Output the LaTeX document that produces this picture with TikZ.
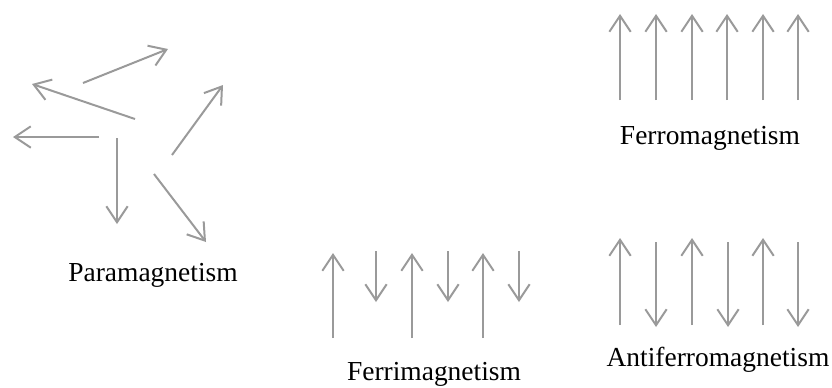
\documentclass[tikz,border=0pt]{standalone}
\usepackage{fontspec}
\setmainfont{Liberation Serif}
\usetikzlibrary{arrows.meta}
\definecolor{spingray}{HTML}{9A9A9A}
\tikzset{
  spin/.style={-{Straight Barb[length=12pt,width=16pt]}, line width=1.5pt, draw=spingray},
  caption/.style={font=\fontsize{20.6}{24}\selectfont, inner sep=0pt, text=black}
}
\begin{document}
\begin{tikzpicture}[x=0.75pt,y=-0.75pt]
\useasboundingbox (0,0) rectangle (832,387);
% paramagnetism: random spins
\draw[spin] (83,83) -- (168,49);
\draw[spin] (135,119) -- (32,84);
\draw[spin] (99,137) -- (13,137);
\draw[spin] (117,138) -- (117,224);
\draw[spin] (172,155) -- (223,85);
\draw[spin] (154,174) -- (206,242);
\node[caption] (para) at (153,275) {Paramagnetism};
% ferrimagnetism
\foreach \x in {333,412,483} \draw[spin] (\x,338) -- (\x,253);
\foreach \x in {376,448,519} \draw[spin] (\x,251) -- (\x,302);
\node[caption] (ferri) at (434,374) {Ferrimagnetism};
% ferromagnetism
\foreach \x in {620,656,692,727,763,798} \draw[spin] (\x,100) -- (\x,14);
\node[caption] (ferro) at (710,138) {Ferromagnetism};
% antiferromagnetism
\foreach \x in {620,692,763} \draw[spin] (\x,325) -- (\x,238);
\foreach \x in {656,728,798} \draw[spin] (\x,242) -- (\x,327);
\node[caption] (antiferro) at (718,360) {Antiferromagnetism};
\end{tikzpicture}
\end{document}
